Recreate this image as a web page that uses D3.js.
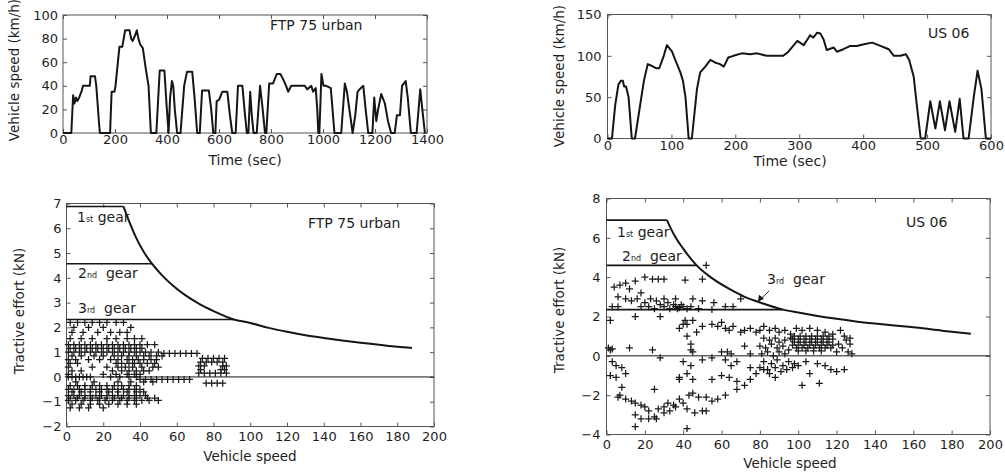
<!DOCTYPE html>
<html>
<head>
<meta charset="utf-8">
<script src="https://cdn.jsdelivr.net/npm/d3@7"></script>
<style>
body { margin: 0; background: #fff; }
svg text { font-family: "DejaVu Sans", sans-serif; fill: #1e1e1e; }
</style>
</head>
<body>
<div id="chart"></div>
<script>
// ---- values ----

// FTP 75 urban cycle: [time (sec), speed (km/h)]
var ftpCycle = [[0,0],[32,0],[39,32],[44,25],[50,30],[55,27],[62,30],[71,35],[77,40],[103,40],[106,48],[123,48],[128,40],[138,10],[142,0],
  [181,0],[187,35],[198,35],[202,40],[217,73],[228,73],[239,87],[256,87],[262,80],[268,78],[276,82],[284,87],[290,80],[297,75],[307,72],[318,55],[329,40],[338,0],
  [359,0],[372,53],[390,53],[398,25],[406,0],[412,30],[419,44],[424,40],[430,20],[439,0],[452,0],[466,40],[477,52],[497,52],[506,30],[516,0],
  [526,0],[535,36],[561,36],[570,20],[578,0],[586,0],[591,27],[600,28],[613,35],[632,35],[642,15],[651,0],[664,0],[673,40],[690,40],[698,20],[707,0],
  [713,0],[720,35],[726,15],[733,0],[745,0],[758,40],[768,20],[777,0],[782,0],[793,42],[808,42],[822,50],[836,50],[848,45],[858,40],[866,35],[878,40],
  [930,40],[940,37],[955,40],[962,35],[972,38],[978,20],[982,0],[986,0],[994,50],[1002,40],[1012,40],[1030,38],[1044,0],[1070,0],[1084,42],[1092,35],
  [1114,0],[1124,15],[1133,35],[1145,38],[1155,40],[1164,20],[1174,0],[1190,0],[1197,30],[1205,10],[1212,20],[1224,33],[1238,25],[1250,10],[1262,0],
  [1276,0],[1284,15],[1296,15],[1304,40],[1318,44],[1326,30],[1338,0],[1360,0],[1374,37],[1382,20],[1392,0]];

// US 06 cycle: [time (sec), speed (km/h)]
var us06Cycle = [[0,0],[7,0],[12,40],[17,65],[21,70],[24,70],[26,63],[29,63],[33,50],[38,0],[43,0],[51,40],[57,70],[63,90],[69,88],
  [76,85],[81,85],[88,100],[93,113],[101,105],[106,95],[114,80],[118,70],[122,50],[127,0],[132,0],[140,60],[145,80],[153,87],[161,95],
  [168,92],[176,90],[182,87],[189,98],[197,100],[210,103],[223,102],[234,103],[249,100],[265,100],[275,100],[283,105],[297,118],[307,113],
  [317,125],[322,122],[328,128],[333,127],[338,120],[343,107],[354,110],[359,105],[369,108],[380,112],[390,112],[401,114],[414,116],[427,112],
  [440,108],[448,100],[458,100],[467,102],[472,95],[479,75],[484,40],[490,0],[497,0],[505,45],[513,12],[520,45],[528,10],[535,45],[544,8],
  [551,48],[557,0],[565,0],[573,50],[579,82],[585,60],[592,0],[600,0]];

var ftpTimeTicks = [0,200,400,600,800,1000,1200,1400];
var ftpSpeedTicks = [0,20,40,60,80,100];
var us06TimeTicks = [0,100,200,300,400,500,600];
var us06SpeedTicks = [0,50,100,150];
var effortSpeedTicks = [0,20,40,60,80,100,120,140,160,180,200];
var ftpEffortTicks = [-2,-1,0,1,2,3,4,5,6,7];
var us06EffortTicks = [-4,-2,0,2,4,6,8];

// maximum tractive effort envelope, [speed, kN]
var ftpGear1 = [[0,6.88],[31,6.88]];
var ftpGear2 = [[0,4.57],[46.5,4.57]];
var ftpGear3 = [[0,2.32],[91,2.32]];
var ftpEnvelope = [[31,6.88],[34,6.3],[38,5.6],[42,5.05],[46.5,4.57],[52,4.1],[58,3.68],[65,3.28],[72,2.96],[80,2.66],[91,2.32],
  [100,2.18],[110,1.98],[120,1.82],[130,1.68],[140,1.57],[150,1.47],[160,1.38],[170,1.3],[180,1.22],[188,1.17]];
var us06Gear1 = [[0,6.9],[31.5,6.9]];
var us06Gear2 = [[0,4.6],[47,4.6]];
var us06Gear3 = [[0,2.35],[92,2.35]];
var us06Envelope = [[31.5,6.9],[35,6.2],[40,5.45],[47,4.6],[55,3.95],[65,3.35],[72,3.0],[79,2.75],[92,2.35],[100,2.2],[110,2.03],
  [120,1.88],[130,1.75],[140,1.64],[150,1.54],[160,1.45],[175,1.28],[190,1.12]];

// operating points, rows of [effort kN, [speeds]]
var ftpPointRows = [
  [2.2, [2,6,10,14,18,22,27,31]],
  [2.0, [4,12,20,35]],
  [1.8, [3,9,17,24,29,33]],
  [1.55, [2,8,14,22,27,33,37,41]],
  [1.3, [1,4,7,10,13,16,19,22,25,28,31,34,37,40,44,48]],
  [1.15, [2,5,8,11,14,17,20,23,26,29,32,35,38,41]],
  [1.0, [1,4,7,10,13,16,19,22,25,28,31,34,37,40,43,46,50]],
  [0.95, [53,56,59,62,65,68,71]],
  [0.85, [3,8,15,20,26,30,34,38,42,45,49,52]],
  [0.7, [1,5,12,18,24,28,33,36,39,42,46,49]],
  [0.55, [2,6,27,30,34,37,40,44,48]],
  [0.4, [1,14,22,28,32,36,41,47,50]],
  [0.25, [3,8,25,30,34,38,42,45]],
  [0.1, [1,20,27,33,37,40]],
  [0.0, [1,3,5,7,9,11,13,24,29,34,38]],
  [-0.1, [40,43,46,49,52,55,58,61,64,67]],
  [-0.2, [5,15,28,35,42,47]],
  [-0.35, [2,6,10,14,18,22,26,30,34,38]],
  [-0.5, [1,4,7,10,13,16,19,22,25,28,31,34,37,40]],
  [-0.6, [3,8,13,18,23,28,33,38,42]],
  [-0.75, [1,4,7,10,13,16,19,22,25,28,31,34,37,40,43]],
  [-0.85, [2,6,10,14,18,22,26,30,34,38,44,48]],
  [-0.95, [1,5,9,13,17,21,25,29,33,37,41,45,50]],
  [-1.1, [3,8,13,18,23,28,33,38]],
  [-1.25, [2,7,12,20]],
  [0.75, [74,77,80,83,86]],
  [0.6, [73,76,79,82,85]],
  [0.45, [72,75,85,87]],
  [0.3, [73,84,86]],
  [0.15, [72,75,78,81,84,87]],
  [-0.25, [76,79,82,85]]
];
var us06PointRows = [
  [1.0, [98,101,104,107,110,113,116]],
  [0.85, [97,100,103,106,109,112,115,118]],
  [0.7, [98,101,104,107,110,113,116]],
  [0.55, [97,100,103,106,109,112,115,118]],
  [0.4, [99,102,105,108,111,114,117]],
  [0.25, [100,104,108,112]]
];
var us06Points = [[4,3.5],[7,3.6],[10,3.7],[12,3.4],[15,3.8],[18,3.2],[20,4.0],[24,3.9],[27,3.9],[30,3.9],[41,3.85],[50,3.9],[52,4.6],
  [6,3.0],[10,2.9],[13,2.8],[16,2.9],[20,2.7],[23,2.9],[26,2.8],[30,2.9],[32,2.7],[36,2.9],[39,2.6],[45,2.9],[50,2.8],[56,2.7],[66,2.5],[70,2.9],
  [3,2.5],[6,2.5],[18,2.5],[22,2.5],[25,2.4],[28,2.6],[30,2.5],[33,2.4],[35,2.6],[36,2.5],[37,2.4],[38,2.45],[40,2.5],[42,2.4],[44,2.5],[48,2.4],[55,2.35],[62,2.5],
  [2,1.8],[15,2.0],[28,2.0],[45,1.8],[42,1.6],[47,1.2],[50,1.5],[55,1.6],[58,1.5],[60,1.7],[62,1.4],[64,1.3],[66,1.5],[70,1.2],[72,1.3],[75,1.4],[78,1.2],[80,1.3],[82,1.5],
  [1,0.4],[2,0.3],[3,0.35],[12,0.4],[24,0.3],[45,0.2],[60,0.2],[65,0.1],[75,0.1],[72,0.5],[40,1.6],[41,1.8],[38,1.4],[42,1.0],[44,0.6],[63,0.2],[44,0.3],
  [5,-0.5],[8,-0.6],[3,-0.3],[28,-0.1],[40,-0.3],[44,-0.5],[50,-0.2],[55,-0.1],[62,-0.2],[65,-0.5],[68,-0.3],[75,-0.6],[82,-0.7],
  [2,-1.0],[5,-1.1],[10,-0.9],[38,-1.1],[42,-0.9],[45,-1.2],[55,-1.2],[60,-1.0],[64,-1.1],[68,-1.3],[72,-1.5],[75,-1.2],[78,-0.9],[85,-0.9],[88,-1.1],
  [8,-1.6],[7,-2.0],[6,-2.1],[10,-2.2],[13,-2.3],[15,-2.4],[18,-2.5],[20,-2.6],[25,-1.7],[22,-2.8],[27,-2.7],[30,-2.6],[32,-2.4],[35,-2.5],[38,-2.2],
  [40,-2.4],[43,-2.0],[45,-1.9],[48,-2.1],[52,-2.1],[55,-2.3],[58,-2.2],[62,-2.0],[68,-1.7],[50,-2.8],[46,-2.9],[42,-2.7],[36,-2.6],[33,-2.8],
  [30,-2.9],[25,-3.1],[22,-3.2],[18,-3.2],[15,-3.0],[15,-3.6],[26,-3.2],[42,-3.7],[52,-2.8],[38,-1.2],
  [85,1.3],[88,1.4],[90,1.2],[93,1.3],[96,1.1],[99,1.4],[102,1.3],[106,1.4],[110,1.3],[114,1.2],[118,1.1],[122,1.3],[124,1.0],[127,0.9],
  [82,0.9],[85,0.8],[88,0.9],[90,0.7],[93,0.8],[96,0.9],[80,0.5],[83,0.4],[86,0.6],[89,0.4],[92,0.5],[95,0.3],[81,0.1],[84,0.2],[87,0.0],[90,0.2],[93,0.1],
  [82,-0.3],[86,-0.4],[89,-0.2],[92,-0.5],[95,-0.3],[98,-0.4],[80,-0.6],[84,-0.7],[88,-0.6],[91,-0.8],[94,-0.7],[97,-0.6],[100,-0.5],[104,-0.3],
  [110,-0.4],[114,-0.5],[117,-0.7],[120,-0.8],[124,-0.7],[102,-1.5],[111,-1.4],[106,-0.9],
  [120,0.2],[123,0.4],[126,0.2],[127,0.6],[128,0.1],[125,0.8],[121,0.6]];

(function() {
    var svg = d3.select("#chart")
        .append("svg")
        .attr("width", 1005)
        .attr("height", 473);

    var fmt = d3.format("d"); // no thousands comma, real minus sign

    // one framed matlab-ish axes box, ticks pointing inwards on all four sides
    function panel(box, xDomain, yDomain, xTicks, yTicks, xPad, yPad) {
        var x = d3.scaleLinear().domain(xDomain).range([box.left, box.right]);
        var y = d3.scaleLinear().domain(yDomain).range([box.bottom, box.top]);
        var g = svg.append("g");

        g.append("g").attr("transform", "translate(0," + box.bottom + ")")
            .call(d3.axisBottom(x).tickValues(xTicks).tickFormat(fmt).tickSizeInner(-4).tickSizeOuter(0).tickPadding(xPad));
        g.append("g").attr("transform", "translate(0," + box.top + ")")
            .call(d3.axisTop(x).tickValues(xTicks).tickSizeInner(-4).tickSizeOuter(0).tickFormat(""));
        g.append("g").attr("transform", "translate(" + box.left + ",0)")
            .call(d3.axisLeft(y).tickValues(yTicks).tickFormat(fmt).tickSizeInner(-4).tickSizeOuter(0).tickPadding(yPad));
        g.append("g").attr("transform", "translate(" + box.right + ",0)")
            .call(d3.axisRight(y).tickValues(yTicks).tickSizeInner(-4).tickSizeOuter(0).tickFormat(""));

        g.selectAll(".domain").remove();
        g.selectAll(".tick line").attr("stroke", "#555");
        g.selectAll(".tick text").attr("font-size", 13).attr("font-family", "DejaVu Sans").attr("fill", "#1e1e1e");

        g.append("rect")
            .attr("x", box.left).attr("y", box.top)
            .attr("width", box.right - box.left).attr("height", box.bottom - box.top)
            .attr("fill", "none").attr("stroke", "#555").attr("stroke-width", 1);
        return { g: g, x: x, y: y };
    }

    function line(p, data, width, curve) {
        var l = d3.line().x(function(d) { return p.x(d[0]); }).y(function(d) { return p.y(d[1]); });
        if (curve) l.curve(curve);
        p.g.append("path").datum(data)
            .attr("d", l)
            .attr("fill", "none")
            .attr("stroke", "#151515")
            .attr("stroke-width", width)
            .attr("stroke-linejoin", "round");
    }

    function text(x, y, str, size, anchor) {
        return svg.append("text").attr("x", x).attr("y", y)
            .attr("font-size", size).attr("text-anchor", anchor || "start").text(str);
    }

    // "1st gear" with the little suffix
    function gearLabel(x, y, num, suffix, rest) {
        var t = svg.append("text").attr("x", x).attr("y", y).attr("font-size", 14);
        t.append("tspan").text(num);
        t.append("tspan").attr("font-size", 8).text(suffix);
        t.append("tspan").attr("xml:space", "preserve").text(rest);
    }

    function vlabel(x, y, str) {
        svg.append("text")
            .attr("transform", "translate(" + x + "," + y + ") rotate(-90)")
            .attr("text-anchor", "middle")
            .attr("font-family", "Liberation Sans")
            .attr("font-size", 13.5)
            .text(str);
    }

    function plus(p, pts) {
        p.g.append("g").selectAll("path")
            .data(pts).enter().append("path")
            .attr("d", function(d) {
                var cx = p.x(d[0]), cy = p.y(d[1]);
                return "M" + (cx - 3.5) + "," + cy + "H" + (cx + 3.5) + "M" + cx + "," + (cy - 3.5) + "V" + (cy + 3.5);
            })
            .attr("stroke", "#1a1a1a")
            .attr("stroke-width", 1.25)
            .attr("fill", "none");
    }

    function rowsToPoints(rows) {
        var out = [];
        rows.forEach(function(r) { r[1].forEach(function(v) { out.push([v, r[0]]); }); });
        return out;
    }

    // --- top left: FTP 75 speed trace
    var p1 = panel({ left: 63, right: 427, top: 15, bottom: 133 }, [0, 1400], [0, 100], ftpTimeTicks, ftpSpeedTicks, 2, 5);
    line(p1, ftpCycle, 2);
    text(270, 30, "FTP 75 urban", 14);
    text(245, 165, "Time (sec)", 14, "middle");
    vlabel(19, 70, "Vehicle speed (km/h)");

    // --- top right: US 06 speed trace
    var p2 = panel({ left: 607.5, right: 991, top: 14.5, bottom: 138.5 }, [0, 600], [0, 150], us06TimeTicks, us06SpeedTicks, 2, 6);
    line(p2, us06Cycle, 2);
    text(928, 38, "US 06", 14);
    text(790, 166, "Time (sec)", 14, "middle");
    vlabel(564, 76, "Vehicle speed (km/h)");

    // --- bottom left: FTP 75 operating points vs envelope
    var p3 = panel({ left: 66.5, right: 434, top: 203.5, bottom: 426.5 }, [0, 200], [-2, 7], effortSpeedTicks, ftpEffortTicks, 5, 5);
    line(p3, [[0, 0], [200, 0]], 1);
    plus(p3, rowsToPoints(ftpPointRows));
    line(p3, ftpGear1, 1.6);
    line(p3, ftpGear2, 1.6);
    line(p3, ftpGear3, 1.6);
    line(p3, ftpEnvelope, 2, d3.curveMonotoneX);
    gearLabel(77, 222, "1", "st", " gear");
    gearLabel(78, 278, "2", "nd", "  gear");
    gearLabel(78, 313, "3", "rd", "  gear");
    text(308, 228, "FTP 75 urban", 14);
    text(250, 461, "Vehicle speed", 13.5, "middle");
    vlabel(24, 311, "Tractive effort (kN)");

    // --- bottom right: US 06 operating points vs envelope
    var p4 = panel({ left: 606.5, right: 990, top: 198.5, bottom: 434.5 }, [0, 200], [-4, 8], effortSpeedTicks, us06EffortTicks, 5, 6);
    line(p4, [[0, 0], [200, 0]], 1);
    plus(p4, us06Points);
    plus(p4, rowsToPoints(us06PointRows));
    line(p4, us06Gear1, 1.6);
    line(p4, us06Gear2, 1.6);
    line(p4, us06Gear3, 1.6);
    line(p4, us06Envelope, 2, d3.curveMonotoneX);
    gearLabel(617, 237, "1", "st", " gear");
    gearLabel(622, 261, "2", "nd", "  gear");
    gearLabel(767, 284, "3", "rd", "  gear");
    text(906, 227, "US 06", 14);
    text(790, 468, "Vehicle speed", 13.5, "middle");
    vlabel(564, 310, "Tractive effort (kN)");

    // little arrow from the 3rd gear note down to the curve
    var tip = [p4.x(79), p4.y(2.75)];
    svg.append("line")
        .attr("x1", 769).attr("y1", 291).attr("x2", tip[0] + 3).attr("y2", tip[1] - 3)
        .attr("stroke", "#222").attr("stroke-width", 1);
    svg.append("path")
        .attr("d", "M" + tip[0] + "," + tip[1] + "l1,-7l5,4z")
        .attr("fill", "#111");
})();
</script>
</body>
</html>
